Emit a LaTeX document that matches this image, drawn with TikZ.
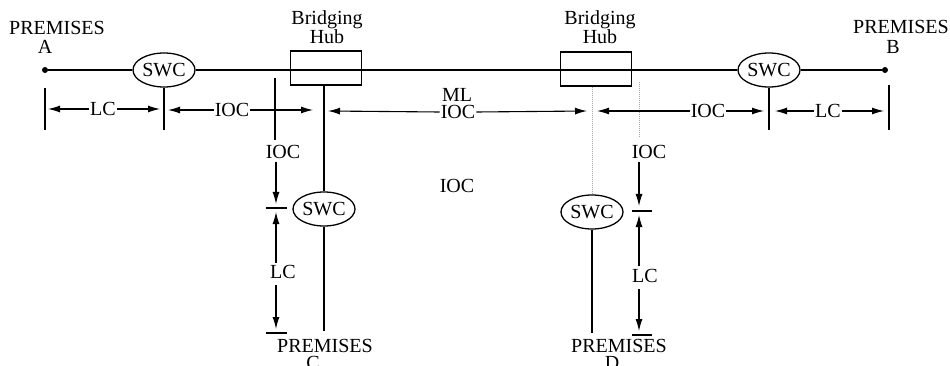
\documentclass[tikz,border=0pt]{standalone}
\usepackage{fontspec}
\setmainfont{Liberation Serif}
\usetikzlibrary{arrows.meta,shapes.geometric}
\begin{document}
\begin{tikzpicture}[x=1pt,y=-1pt,
  lbl/.style={inner sep=1pt,font=\fontsize{20}{22}\selectfont},
  stack/.style={lbl,inner sep=0pt,anchor=base},
  swc/.style={draw,ellipse,minimum width=62pt,minimum height=34pt,inner sep=0pt,line width=1.3pt,font=\fontsize{20}{22}\selectfont},
  hub/.style={draw,rectangle,minimum width=71pt,minimum height=34pt,inner sep=0pt,line width=1.3pt},
  pdot/.style={circle,fill,inner sep=0pt,minimum size=6pt},
  wire/.style={line width=1.3pt},
  faint/.style={line width=1pt,black!35,densely dotted},
  dimarrow/.style={line width=1.1pt,-{Latex[length=12pt,width=7pt]}},
  tickline/.style={line width=1.3pt}]
\useasboundingbox (0,0) rectangle (950,366);
% main nodes
\node[pdot] (A) at (45,70) {};
\node[pdot] (B) at (885,70) {};
\node[swc] (swcA) at (164,70) {SWC};
\node[swc] (swcB) at (769,70) {SWC};
\node[hub] (hubL) at (326,68) {};
\node[hub] (hubR) at (596,69) {};
\node[swc] (swcC) at (324,209) {SWC};
\node[swc] (swcD) at (592,212) {SWC};
\coordinate (Cend) at (324,331);
\coordinate (Dend) at (592,333);
% wires
\draw[wire] (A) -- (swcA);
\draw[wire] (swcA) -- (swcB);
\draw[wire] (swcB) -- (B);
\draw[wire] (hubL.south -| swcC.north) -- (swcC.north);
\draw[wire] (swcC) -- (Cend);
\draw[faint] (hubR.south -| swcD.north) -- (swcD.north);
\draw[wire] (swcD) -- (Dend);
% labels
\node[stack] (pa) at (57,35) {PREMISES};
\node[stack] (pa2) at (45,54) {A};
\node[stack] (pb) at (901,34) {PREMISES};
\node[stack] (pb2) at (893,54) {B};
\node[stack] (bl1) at (327,25) {Bridging};
\node[stack] (bl2) at (327,44) {Hub};
\node[stack] (br1) at (600,25) {Bridging};
\node[stack] (br2) at (600,44) {Hub};
\node[stack] (pc) at (325,352) {PREMISES};
\node[stack] (pc2) at (313,369) {C};
\node[stack] (pd) at (619,352) {PREMISES};
\node[stack] (pd2) at (612,369) {D};
% ticks
\draw[tickline] (45,88) -- (45,130);
\draw[tickline] (swcA.south) -- (164,130);
\draw[tickline] (275,78) -- (275,140);
\draw[faint] (639,82) -- (639,137);
\draw[tickline] (swcB.south) -- (769,130);
\draw[tickline] (889,85) -- (889,130);
\draw[tickline] (266,208) -- (287,208);
\draw[tickline] (266,333) -- (287,333);
\draw[tickline] (632,211) -- (652,211);
\draw[tickline] (632,335) -- (652,335);
% horizontal dimension arrows
\node[lbl] (lc1) at (103,109) {LC};
\draw[dimarrow] (lc1.west) -- (48,109);
\draw[dimarrow] (lc1.east) -- (160,109);
\node[lbl] (ioc1) at (232,110) {IOC};
\draw[dimarrow] (ioc1.west) -- (168,110);
\draw[dimarrow] (ioc1.east) -- (313,110);
\node[lbl] (ml) at (457,95) {ML};
\node[lbl] (ioc2) at (458,112) {IOC};
\draw[dimarrow] (ioc2.west) -- (328,111);
\draw[dimarrow] (ioc2.east) -- (587,111);
\node[lbl] (ioc3) at (708,111) {IOC};
\draw[dimarrow] (ioc3.west) -- (597,111);
\draw[dimarrow] (ioc3.east) -- (764,111);
\node[lbl] (lc2) at (828,111) {LC};
\draw[dimarrow] (lc2.west) -- (775,111);
\draw[dimarrow] (lc2.east) -- (884,111);
% middle label
\node[lbl] (ioc4) at (457,186) {IOC};
% vertical dimension arrows, left
\node[lbl] (ioc5) at (283,152) {IOC};
\draw[dimarrow] (276,162) -- (276,204);
\node[lbl] (lc3) at (283,272) {LC};
\draw[dimarrow] (276,263) -- (276,212);
\draw[dimarrow] (276,285) -- (276,329);
% vertical dimension arrows, right
\node[lbl] (ioc6) at (649,152) {IOC};
\draw[dimarrow] (639,162) -- (639,206);
\node[lbl] (lc4) at (645,276) {LC};
\draw[dimarrow] (639,266) -- (639,215);
\draw[dimarrow] (639,289) -- (639,331);
\end{tikzpicture}
\end{document}
